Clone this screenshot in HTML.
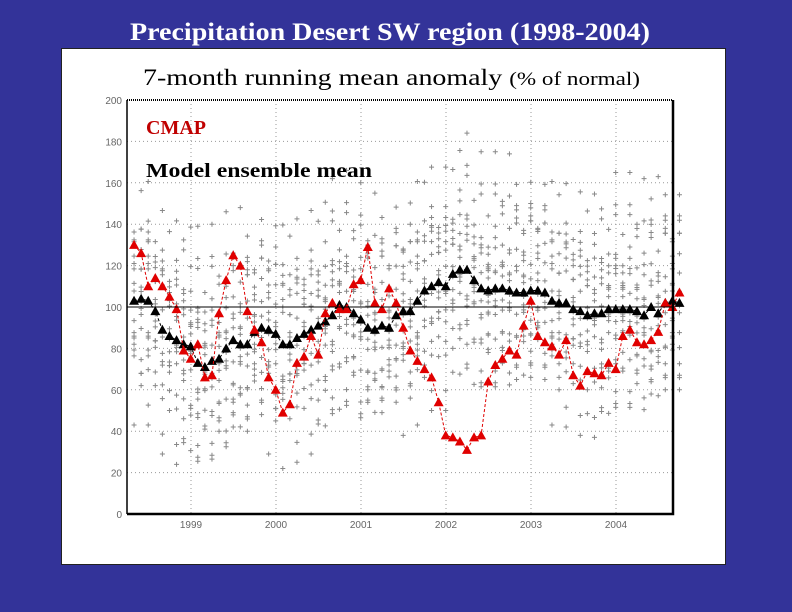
<!DOCTYPE html>
<html><head><meta charset="utf-8"><style>
body{margin:0;width:792px;height:612px;background:#333399;overflow:hidden}
svg{display:block}
</style></head><body>
<svg width="792" height="612" xmlns="http://www.w3.org/2000/svg">
<rect x="0" y="0" width="792" height="612" fill="#333399"/>
<text x="130" y="40" font-family="Liberation Serif, serif" font-weight="bold" font-size="25" fill="#fff" textLength="520" lengthAdjust="spacingAndGlyphs">Precipitation Desert SW region (1998-2004)</text>
<rect x="61.5" y="48.5" width="664" height="516" fill="#fff" stroke="#222" stroke-width="1"/>
<text x="143" y="85" font-family="Liberation Serif, serif" font-size="23" fill="#000" textLength="497" lengthAdjust="spacingAndGlyphs">7-month running mean anomaly <tspan font-size="19">(% of normal)</tspan></text>
<g id="grid"></g>
<g id="members"></g>
<g id="series"></g>
<g id="axes"></g>
<text x="146" y="134" font-family="Liberation Serif, serif" font-weight="bold" font-size="20" fill="#c00000">CMAP</text>
<text x="146" y="177" font-family="Liberation Serif, serif" font-weight="bold" font-size="20" fill="#000" textLength="226" lengthAdjust="spacingAndGlyphs">Model ensemble mean</text>
</svg>
<script>
const yTicks=[0,20,40,60,80,100,120,140,160,180,200];
const xYears=[1999,2000,2001,2002,2003,2004];
const startTime=1998.33;
const cmap=[130,126,110,114,110,105,99,79,75,82,66,67,97,113,125,120,98,89,83,66,60,49,53,73,76,86,77,97,102,99,99,111,113,129,102,99,109,
102,90,79,74,70,66,54,38,37,35,31,37,38,64,72,75,79,77,91,103,86,83,81,77,84,67,62,69,68,67,73,70,86,89,83,82,84,88,102,100,107];
const ens=[103,104,103,98,89,86,84,82,81,73,71,74,75,80,84,82,82,88,90,89,87,82,82,85,87,89,91,93,96,101,100,97,94,90,89,91,90,
96,98,98,103,108,110,112,110,116,118,118,113,109,108,109,109,108,107,107,108,108,107,103,102,102,99,98,96,97,97,99,99,99,99,98,96,100,97,102,103,102];
const memberOffsets=[-38,22,-12,35,-25,8,-50,15,-5,42,-30,28,-18,5,-42,18,-8,55,-22,12,-35,30,-2,48,-15,25];
const L=127,R=673,T=100,B=514;
const xs=t=>191+(t-1999)*85;
const ys=v=>B-(v/200)*(B-T);
const NS="http://www.w3.org/2000/svg";
function mk(tag,attrs,parent){const e=document.createElementNS(NS,tag);for(const k in attrs)e.setAttribute(k,attrs[k]);parent.appendChild(e);return e;}
const grid=document.getElementById('grid'),axes=document.getElementById('axes'),mem=document.getElementById('members'),ser=document.getElementById('series');
yTicks.forEach(v=>{
 if(v>0&&v<200){const g=mk('line',{x1:L,x2:R,y1:ys(v),y2:ys(v),stroke:'#999','stroke-width':1,'stroke-dasharray':'1,3'},grid);
 
 }
 const t=mk('text',{x:122,y:ys(v)+4,'text-anchor':'end','font-family':'Liberation Sans, sans-serif','font-size':10,fill:'#666'},axes);
 t.textContent=v;
 
 
});
xYears.forEach(yr=>{
 const x=xs(yr);
 const g=mk('line',{x1:x,x2:x,y1:T,y2:B,stroke:'#999','stroke-width':1,'stroke-dasharray':'1,3'},grid);
 
 
 const t=mk('text',{x:x,y:B+14,'text-anchor':'middle','font-family':'Liberation Sans, sans-serif','font-size':10,fill:'#666'},axes);
 t.textContent=yr;
 
 
});
ens.forEach((m,i)=>{
 const x=xs(startTime+i/12);
 for(let k=0;k<16;k++){
  const v=m+memberOffsets[(i*7+k*3)%memberOffsets.length]*(0.7+0.25*((i+k)%3));
  const y=ys(v);
  const c=mk('path',{d:`M${x-2.5},${y}h5M${x},${y-2.5}v5`,stroke:'#888','stroke-width':1,fill:'none'},mem);
  
  
 }
});
function series(arr,color,dash,name){
 const pts=arr.map((v,i)=>[xs(startTime+i/12),ys(v)]);
 const p=mk('polyline',{points:pts.map(p=>p.join(',')).join(' '),fill:'none',stroke:color,'stroke-width':1,'stroke-dasharray':dash},ser);
 
 
 pts.forEach(([x,y])=>{
  const t=mk('polygon',{points:`${x},${y-5} ${x-5},${y+4} ${x+5},${y+4}`,fill:color},ser);
  
  
 });
}
series(ens,'#000','3,2','ensemble-mean');
series(cmap,'#e00000','3,2','cmap');
const h=mk('line',{x1:L,x2:R,y1:ys(100),y2:ys(100),stroke:'#000','stroke-width':1},axes);


const f1=mk('path',{d:`M${L},${T}V${B}`,stroke:'#000','stroke-width':1.5,fill:'none'},axes);


const f2=mk('path',{d:`M${L},${B}H${R}V${T}`,stroke:'#000','stroke-width':2.5,fill:'none'},axes);


const f3=mk('line',{x1:L,x2:R,y1:T,y2:T,stroke:'#000','stroke-width':2,'stroke-dasharray':'1,1'},axes);


</script>
</body></html>
